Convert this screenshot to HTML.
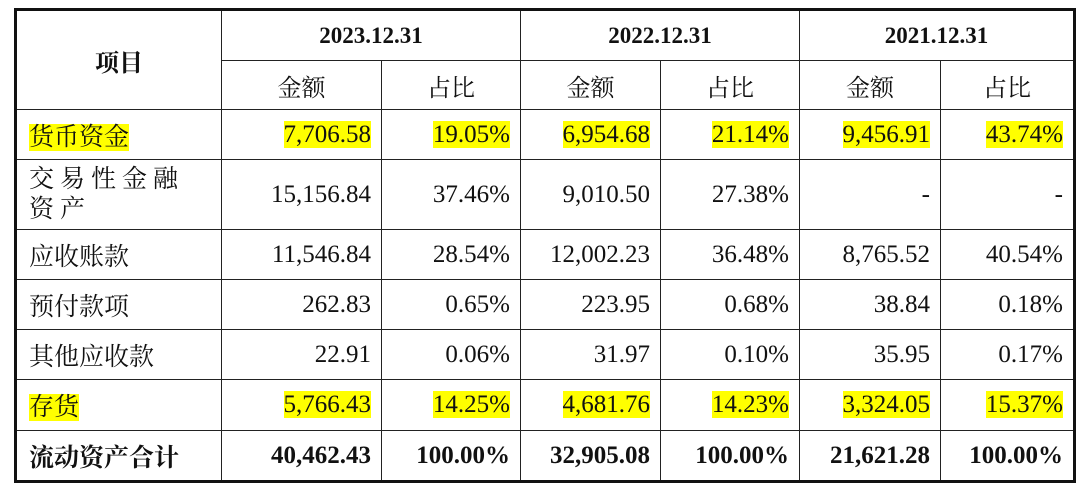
<!DOCTYPE html>
<html><head><meta charset="utf-8">
<style>
html,body{margin:0;padding:0;background:#fff;width:1080px;height:493px;overflow:hidden}
table{position:absolute;left:14px;top:8px;border-collapse:collapse;border:3px solid #111;table-layout:fixed;
 font-family:"Liberation Serif","Noto Serif CJK SC",serif;font-size:25px;color:#111}
td{border:1.5px solid #222;padding:0 10px;white-space:nowrap;overflow:hidden}
td.n{text-align:right}
td.c{text-align:center}
td.l{text-align:left;padding-left:12px}
.h{background:#ffff00}
.b{font-weight:bold}
</style></head><body>
<table>
<colgroup><col style="width:199px"><col style="width:160px"><col style="width:139px"><col style="width:140px"><col style="width:139px"><col style="width:141px"><col style="width:134px"></colgroup>
<tr style="height:51px">
<td rowspan="2" class="c b" style="font-size:24px">项目</td>
<td colspan="2" class="c b" style="font-size:23px">2023.12.31</td>
<td colspan="2" class="c b" style="font-size:23px">2022.12.31</td>
<td colspan="2" class="c b" style="font-size:23px">2021.12.31</td>
</tr>
<tr style="height:49px;font-size:24px">
<td class="c">金额</td>
<td class="c">占比</td>
<td class="c">金额</td>
<td class="c">占比</td>
<td class="c">金额</td>
<td class="c">占比</td>
</tr>
<tr style="height:50px">
<td class="l"><span class="h">货币资金</span></td>
<td class="n"><span class="h">7,706.58</span></td><td class="n"><span class="h">19.05%</span></td>
<td class="n"><span class="h">6,954.68</span></td><td class="n"><span class="h">21.14%</span></td>
<td class="n"><span class="h">9,456.91</span></td><td class="n"><span class="h">43.74%</span></td>
</tr>
<tr style="height:70px">
<td class="l"><div style="white-space:normal;width:182px;letter-spacing:6px;line-height:30px;font-size:25px">交易性金融资产</div></td>
<td class="n">15,156.84</td><td class="n">37.46%</td>
<td class="n">9,010.50</td><td class="n">27.38%</td>
<td class="n">-</td><td class="n">-</td>
</tr>
<tr style="height:50px">
<td class="l">应收账款</td>
<td class="n">11,546.84</td><td class="n">28.54%</td>
<td class="n">12,002.23</td><td class="n">36.48%</td>
<td class="n">8,765.52</td><td class="n">40.54%</td>
</tr>
<tr style="height:50px">
<td class="l">预付款项</td>
<td class="n">262.83</td><td class="n">0.65%</td>
<td class="n">223.95</td><td class="n">0.68%</td>
<td class="n">38.84</td><td class="n">0.18%</td>
</tr>
<tr style="height:50px">
<td class="l">其他应收款</td>
<td class="n">22.91</td><td class="n">0.06%</td>
<td class="n">31.97</td><td class="n">0.10%</td>
<td class="n">35.95</td><td class="n">0.17%</td>
</tr>
<tr style="height:51px">
<td class="l"><span class="h">存货</span></td>
<td class="n"><span class="h">5,766.43</span></td><td class="n"><span class="h">14.25%</span></td>
<td class="n"><span class="h">4,681.76</span></td><td class="n"><span class="h">14.23%</span></td>
<td class="n"><span class="h">3,324.05</span></td><td class="n"><span class="h">15.37%</span></td>
</tr>
<tr style="height:51px" class="b">
<td class="l">流动资产合计</td>
<td class="n">40,462.43</td><td class="n">100.00%</td>
<td class="n">32,905.08</td><td class="n">100.00%</td>
<td class="n">21,621.28</td><td class="n">100.00%</td>
</tr>
</table>
</body></html>
